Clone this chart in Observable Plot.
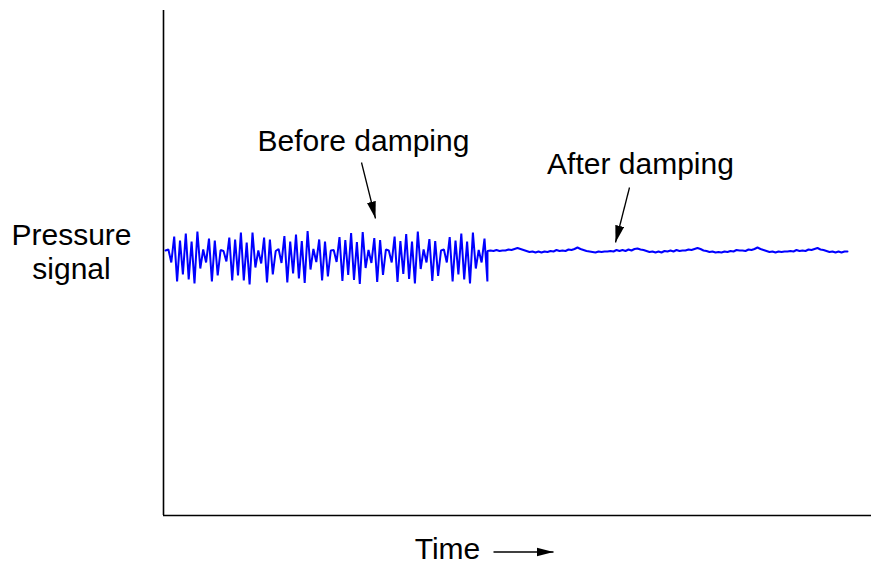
<!DOCTYPE html>
<html><head><meta charset="utf-8">
<script src="https://cdn.jsdelivr.net/npm/d3@7"></script>
<script src="https://cdn.jsdelivr.net/npm/@observablehq/plot@0.6"></script>
<style>body{margin:0;background:#fff}#chart svg{display:block}</style>
</head><body><div id="chart"></div>
<script>
// Noisy signal before damping (pressure units)
const beforeValues = [
  53.0, 53.2, 50.6, 55.8, 46.8, 55.0, 48.2, 56.4, 47.2, 54.8, 46.4, 56.8, 49.4, 53.2, 50.6, 55.4, 46.8, 55.0, 48.0,
  53.1, 52.9, 50.8, 55.6, 47.0, 55.2, 48.0, 56.6, 47.0, 54.6, 46.2, 56.6, 49.6, 53.0, 50.4, 55.6, 46.6, 55.2, 48.2,
  52.9, 53.3, 50.5, 55.9, 46.6, 54.8, 48.4, 56.2, 47.4, 54.9, 46.5, 56.9, 49.2, 53.3, 50.7, 55.2, 47.0, 54.8, 47.8,
  53.0, 53.1, 50.7, 55.7, 46.9, 55.1, 48.1, 56.5, 47.1, 54.7, 46.3, 56.7, 49.5, 53.1, 50.5, 55.5, 46.7, 55.1, 48.1,
  53.2, 53.0, 50.6, 55.8, 46.7, 54.9, 48.3, 56.3, 47.3, 54.8, 46.4, 56.8, 49.3, 53.2, 50.6, 55.3, 46.9, 54.9, 47.9,
  53.0, 53.2, 50.6, 55.7, 46.8, 55.0, 48.2, 56.4, 47.2, 54.8, 46.4, 56.6, 49.4, 53.1, 50.6, 55.4, 46.8
];
// Signal after damping
const afterValues = [
  52.9, 53.0, 52.9, 53.1, 52.9, 53.0, 53.0, 53.2, 53.1, 53.3, 53.5, 53.3, 53.1, 52.9, 52.7, 52.8, 52.6, 52.8, 52.6, 52.8,
  52.7, 52.9, 52.8, 53.1, 52.9, 53.0, 52.9, 53.2, 53.1, 53.3, 53.6, 53.3, 53.1, 52.9, 52.8, 52.7, 52.6, 52.8, 52.7, 52.8,
  52.8, 52.9, 52.8, 53.1, 52.9, 53.1, 52.9, 53.2, 53.0, 53.3, 53.4, 53.2, 53.1, 52.9, 52.7, 52.8, 52.6, 52.8, 52.6, 52.9,
  52.8, 53.0, 52.8, 53.1, 52.9, 53.0, 53.0, 53.2, 53.1, 53.3, 53.5, 53.3, 53.0, 52.9, 52.7, 52.8, 52.6, 52.7, 52.6, 52.8,
  52.7, 52.9, 52.8, 53.1, 53.0, 53.0, 52.9, 53.2, 53.1, 53.3, 53.6, 53.3, 53.1, 52.9, 52.7, 52.8, 52.6, 52.8, 52.7, 52.8,
  52.8, 52.9, 52.8, 53.1, 52.9, 53.0, 52.9, 53.2, 53.1, 53.3, 53.5, 53.2, 53.1, 52.9, 52.7, 52.8, 52.6, 52.8, 52.6, 52.8,
  52.8
];
const beforeStart = 0.2, beforeStep = 0.29;
const afterStart = 32.4, afterStep = 0.3;
const timeDomain = [0, 70.8];
const valueDomain = [0, 101];

const labelTexts = ["Before damping", "After damping", "Pressure", "signal", "Time"];
const labelX = [20.0, 47.7, -9.2, -9.2, 28.4];
const labelY = [73.0, 68.4, 54.2, 47.4, -8.6];

const arrowX1 = [19.8, 46.6, 33.0];
const arrowY1 = [70.6, 65.6, -7.3];
const arrowX2 = [21.2, 45.2, 39.0];
const arrowY2 = [59.4, 54.6, -7.3];

const signal = [
  ...beforeValues.map((v, i) => ({t: beforeStart + i * beforeStep, v})),
  ...afterValues.map((v, i) => ({t: afterStart + i * afterStep, v}))
];
const labels = labelTexts.map((text, i) => ({text, x: labelX[i], y: labelY[i]}));
const arrows = arrowX1.map((x1, i) => ({x1, y1: arrowY1[i], x2: arrowX2[i], y2: arrowY2[i]}));

function filledArrow(color, context) {
  const doc = (context && context.document) || document;
  const ns = "http://www.w3.org/2000/svg";
  const m = doc.createElementNS(ns, "marker");
  m.setAttribute("viewBox", "-17 -5 17 10");
  m.setAttribute("markerWidth", 17);
  m.setAttribute("markerHeight", 10);
  m.setAttribute("markerUnits", "userSpaceOnUse");
  m.setAttribute("orient", "auto");
  m.setAttribute("refX", 0);
  m.setAttribute("refY", 0);
  const p = doc.createElementNS(ns, "path");
  p.setAttribute("d", "M-17,-4.5L0,0L-17,4.5Z");
  p.setAttribute("fill", color);
  p.setAttribute("stroke", "none");
  m.appendChild(p);
  return m;
}

function build(marker) {
  return Plot.plot({
    width: 871, height: 564,
    marginLeft: 163, marginRight: 0, marginTop: 10, marginBottom: 49,
    x: {domain: timeDomain, axis: null},
    y: {domain: valueDomain, axis: null},
    style: {fontFamily: "'Liberation Sans', Arial, Helvetica, sans-serif", background: "#fff", color: "#000"},
    marks: [
      Plot.ruleX([timeDomain[0]], {y1: valueDomain[0], y2: valueDomain[1], stroke: "#000", strokeWidth: 1.6}),
      Plot.ruleY([valueDomain[0]], {x1: timeDomain[0], x2: timeDomain[1], stroke: "#000", strokeWidth: 1.6}),
      Plot.line(signal, {x: "t", y: "v", stroke: "#0000ff", strokeWidth: 2, strokeLinejoin: "miter"}),
      Plot.link(arrows, {x1: "x1", y1: "y1", x2: "x2", y2: "y2", stroke: "#000", strokeWidth: 1.3, markerEnd: marker}),
      Plot.text(labels, {x: "x", y: "y", text: "text", textAnchor: "middle", lineAnchor: "bottom", fontSize: 30, fill: "#000"})
    ]
  });
}

let chart;
try { chart = build(filledArrow); } catch (e) { chart = build("arrow"); }
document.getElementById("chart").appendChild(chart);
</script>
</body></html>
